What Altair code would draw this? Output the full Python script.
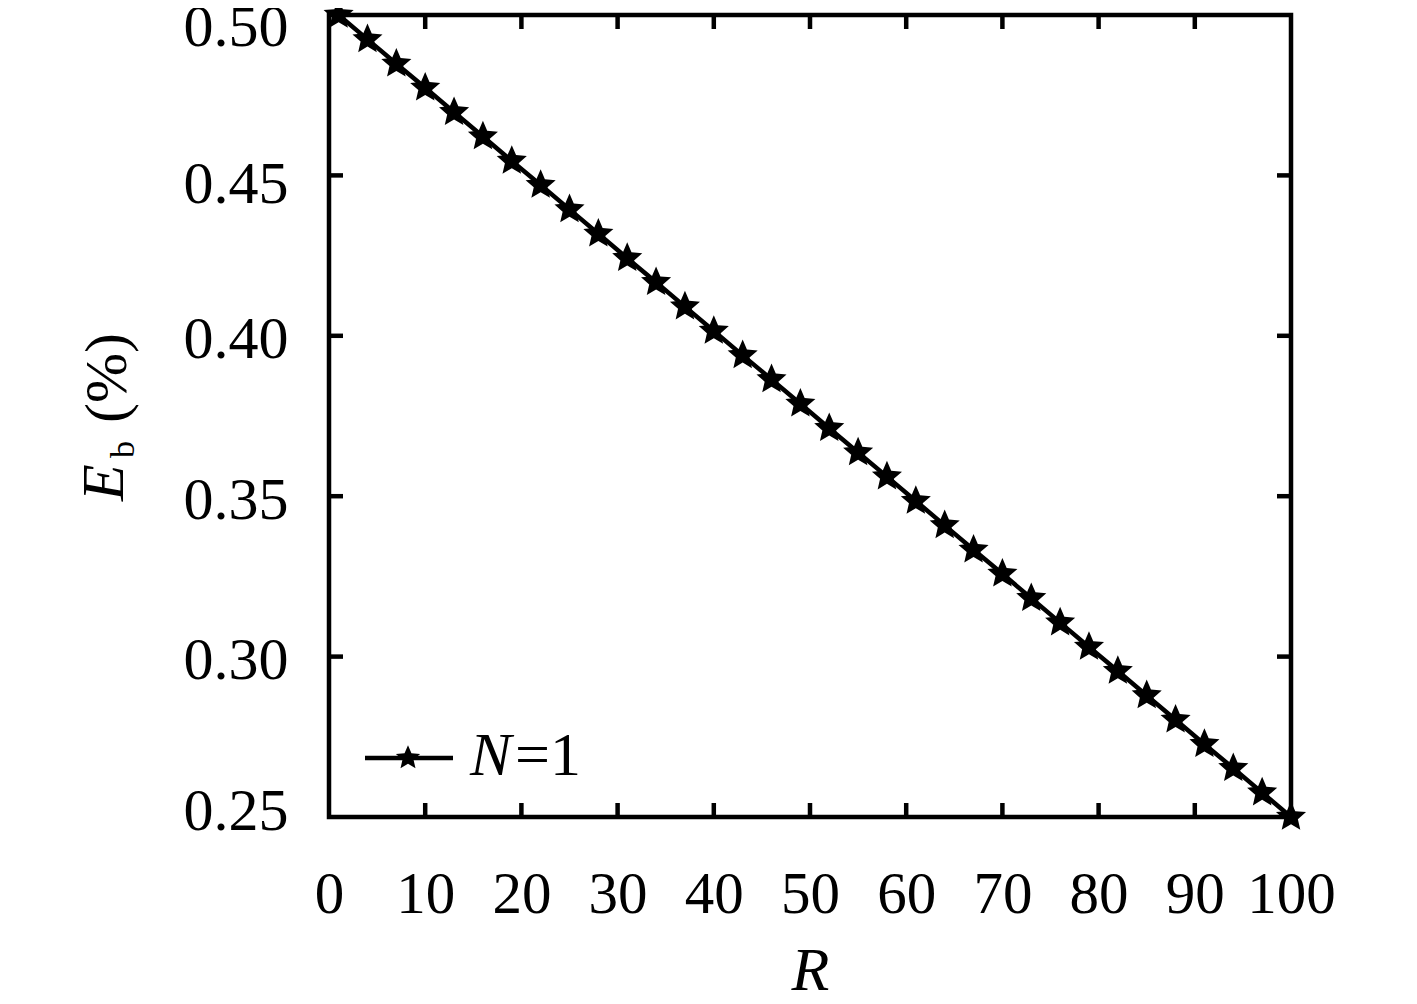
import altair as alt
import pandas as pd

# ---- data ----
R_values = [1, 4, 7, 10, 13, 16, 19, 22, 25, 28, 31, 34, 37, 40, 43, 46, 49,
            52, 55, 58, 61, 64, 67, 70, 73, 76, 79, 82, 85, 88, 91, 94, 97, 100]
Eb_values = [0.500, 0.4924, 0.4848, 0.4773, 0.4697, 0.4621, 0.4545, 0.4470,
             0.4394, 0.4318, 0.4242, 0.4167, 0.4091, 0.4015, 0.3939, 0.3864,
             0.3788, 0.3712, 0.3636, 0.3561, 0.3485, 0.3409, 0.3333, 0.3258,
             0.3182, 0.3106, 0.3030, 0.2955, 0.2879, 0.2803, 0.2727, 0.2652,
             0.2576, 0.2500]
x_ticks = [0, 10, 20, 30, 40, 50, 60, 70, 80, 90, 100]
y_ticks = [0.25, 0.30, 0.35, 0.40, 0.45, 0.50]
series_label = "N=1"

W, H = 962, 802
FONT = "Liberation Serif"
STAR = ("M0,-1 L0.27,-0.37 L0.951,-0.309 L0.435,0.141 L0.588,0.809 "
        "L0,0.457 L-0.588,0.809 L-0.435,0.141 L-0.951,-0.309 L-0.27,-0.37 Z")

df = pd.DataFrame({"R": R_values, "Eb": Eb_values})
xt = pd.DataFrame({"t": x_ticks[1:-1]})
yt = pd.DataFrame({"t": y_ticks[1:-1]})

xscale = alt.Scale(domain=[0, 100], nice=False, zero=False)
yscale = alt.Scale(domain=[0.25, 0.50], nice=False, zero=False)

xaxis = alt.Axis(values=x_ticks, format="d", domain=False, ticks=False,
                 grid=False, labelFont=FONT, labelFontSize=59,
                 labelColor="black", labelPadding=48, labelFlush=False,
                 title="R", titleFont=FONT, titleFontSize=62,
                 titleFontStyle="italic", titleFontWeight="normal",
                 titleColor="black", titleY=172, titleBaseline="alphabetic")
yaxis = alt.Axis(values=y_ticks, format=".2f", domain=False, ticks=False,
                 grid=False, labelFont=FONT, labelFontSize=60,
                 labelColor="black", labelPadding=41, labelFlush=False,
                 labelOffset={"condition": [
                     {"test": "datum.value < 0.26", "value": -6},
                     {"test": "datum.value > 0.49", "value": 12},
                     {"test": "datum.value > 0.44", "value": 9},
                 ], "value": 4},
                 title=None)

LW = 4.5
line = alt.Chart(df).mark_line(color="black", strokeWidth=LW).encode(
    x=alt.X("R:Q", scale=xscale, axis=xaxis),
    y=alt.Y("Eb:Q", scale=yscale, axis=yaxis),
)
pts = alt.Chart(df).mark_point(shape=STAR, filled=True, color="black",
                               size=1000, opacity=1).encode(
    x=alt.X("R:Q", scale=xscale),
    y=alt.Y("Eb:Q", scale=yscale),
)

TL = 14
tick_style = dict(color="black", strokeWidth=LW)
bt = alt.Chart(xt).mark_rule(**tick_style).encode(
    x=alt.X("t:Q", scale=xscale), y=alt.value(H), y2=alt.value(H - TL))
tt = alt.Chart(xt).mark_rule(**tick_style).encode(
    x=alt.X("t:Q", scale=xscale), y=alt.value(0), y2=alt.value(TL))
lt = alt.Chart(yt).mark_rule(**tick_style).encode(
    y=alt.Y("t:Q", scale=yscale), x=alt.value(0), x2=alt.value(TL))
rt = alt.Chart(yt).mark_rule(**tick_style).encode(
    y=alt.Y("t:Q", scale=yscale), x=alt.value(W), x2=alt.value(W - TL))

# legend (manual)
leg_df = pd.DataFrame({"lab": [series_label]})
leg_line = alt.Chart(leg_df).mark_rule(color="black", strokeWidth=LW).encode(
    x=alt.value(36), x2=alt.value(124), y=alt.value(743))
leg_star = alt.Chart(leg_df).mark_point(shape=STAR, filled=True, color="black",
                                        size=650, opacity=1).encode(
    x=alt.value(79), y=alt.value(743))
leg_n = alt.Chart(leg_df).mark_text(font=FONT, fontSize=62, fontStyle="italic",
                                    align="left", baseline="alphabetic",
                                    color="black").encode(
    x=alt.value(141), y=alt.value(760), text=alt.value("N"))
leg_eq = alt.Chart(leg_df).mark_text(font=FONT, fontSize=62, align="left",
                                     baseline="alphabetic",
                                     color="black").encode(
    x=alt.value(186), y=alt.value(760), text=alt.value("=1"))

# y-axis title E_b (%)
yt_E = alt.Chart(leg_df).mark_text(font=FONT, fontSize=60, fontStyle="italic",
                                   align="left", baseline="alphabetic",
                                   angle=270, color="black").encode(
    x=alt.value(-206), y=alt.value(486), text=alt.value("E"))
yt_b = alt.Chart(leg_df).mark_text(font=FONT, fontSize=34, align="left",
                                   baseline="alphabetic", angle=270,
                                   color="black").encode(
    x=alt.value(-195), y=alt.value(443), text=alt.value("b"))
yt_p = alt.Chart(leg_df).mark_text(font=FONT, fontSize=60, align="left",
                                   baseline="alphabetic", angle=270,
                                   color="black").encode(
    x=alt.value(-203), y=alt.value(408), text=alt.value("(%)"))

chart = alt.layer(
    line, pts, bt, tt, lt, rt, leg_line, leg_star, leg_n, leg_eq,
    yt_E, yt_b, yt_p
).properties(
    width=W, height=H,
    autosize=alt.AutoSizeParams(type="none"),
    padding={"left": 321, "top": 7, "right": 118, "bottom": 179},
    background="white",
).configure_view(stroke="black", strokeWidth=LW)

chart.save("out.html", embed_options={"renderer": "svg", "actions": False})
